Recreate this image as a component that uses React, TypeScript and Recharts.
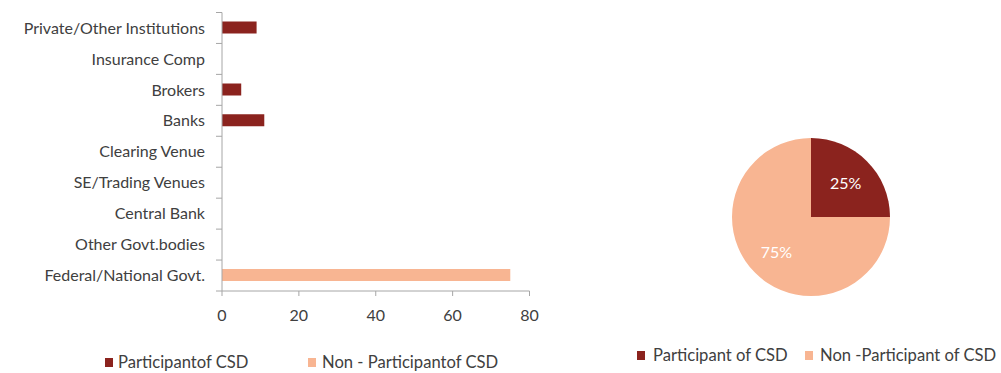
import React from "react";
import { BarChart, Bar, XAxis, YAxis, PieChart, Pie, Cell } from "recharts";

const categories = [
  "Private/Other Institutions",
  "Insurance Comp",
  "Brokers",
  "Banks",
  "Clearing Venue",
  "SE/Trading Venues",
  "Central Bank",
  "Other Govt.bodies",
  "Federal/National Govt.",
];
const participantValues = [9, 0, 5, 11, 0, 0, 0, 0, 0];
const nonParticipantValues = [0, 0, 0, 0, 0, 0, 0, 0, 75];
const xTicks = [0, 20, 40, 60, 80];
const barSeriesNames = ["Participantof CSD", "Non - Participantof CSD"];

const pieNames = ["Participant of CSD", "Non -Participant of CSD"];
const pieValues = [25, 75];

const DARK = "#8B231E";
const LIGHT = "#F8B592";
const TEXT = "#404040";
const AXIS = "#A6A6A6";
const FONT = "Lato, 'Open Sans', sans-serif";

const Y_TICK_SIZE = 6;
const Y_TICK_MARGIN = 11;

const barData = categories.map((c, i) => ({
  name: c,
  participant: participantValues[i],
  nonParticipant: nonParticipantValues[i],
}));

const pieData = pieNames.map((n, i) => ({ name: n, value: pieValues[i] }));
const pieColors = [DARK, LIGHT];

const RAD = Math.PI / 180;
const renderPieLabel = (props: any) => {
  const { cx, cy, midAngle, outerRadius, percent } = props;
  const r = outerRadius * 0.62;
  const x = cx + r * Math.cos(-midAngle * RAD);
  const y = cy + r * Math.sin(-midAngle * RAD);
  return (
    <text
      x={x}
      y={y}
      fill="#FFFFFF"
      textAnchor="middle"
      dominantBaseline="central"
      fontSize={16}
      fontFamily={FONT}
    >
      {`${Math.round(percent * 100)}%`}
    </text>
  );
};

// Category label plus Excel-style tick marks on the band boundaries
const CategoryTick = (props: any) => {
  const { x, y, payload, index } = props;
  const half = payload && typeof payload.offset === "number" ? payload.offset : 0;
  const axisX = x + Y_TICK_SIZE + Y_TICK_MARGIN;
  const isLast = index === categories.length - 1;
  return (
    <g>
      <line
        x1={axisX - Y_TICK_SIZE}
        x2={axisX}
        y1={y - half}
        y2={y - half}
        stroke={AXIS}
      />
      {isLast && (
        <line
          x1={axisX - Y_TICK_SIZE}
          x2={axisX}
          y1={y + half}
          y2={y + half}
          stroke={AXIS}
        />
      )}
      <text
        x={x}
        y={y}
        dy="0.355em"
        textAnchor="end"
        fill={TEXT}
        fontSize={16}
        fontFamily={FONT}
      >
        {payload.value}
      </text>
    </g>
  );
};

const LegendItem = ({ color, label, left, top, gap }: any) => (
  <div
    style={{
      position: "absolute",
      left,
      top,
      display: "flex",
      alignItems: "center",
      fontFamily: FONT,
      fontSize: 16.6,
      color: TEXT,
      whiteSpace: "nowrap",
      lineHeight: "18px",
    }}
  >
    <span
      style={{
        display: "inline-block",
        width: 8,
        height: 9,
        background: color,
        marginRight: gap,
      }}
    />
    <span>{label}</span>
  </div>
);

export default function App() {
  return (
    <div
      style={{
        position: "absolute",
        left: 0,
        top: 0,
        width: 1001,
        height: 373,
        background: "#FFFFFF",
        overflow: "hidden",
      }}
    >
      <div style={{ position: "absolute", left: 0, top: 0 }}>
        <BarChart
          width={560}
          height={333}
          data={barData}
          layout="vertical"
          margin={{ top: 12.5, right: 30.5, left: 0, bottom: 0 }}
          barCategoryGap={0}
        >
          <XAxis
            type="number"
            domain={[0, 80]}
            ticks={xTicks}
            interval={0}
            height={42}
            axisLine={{ stroke: AXIS, strokeWidth: 1 }}
            tickLine={{ stroke: AXIS }}
            tickSize={5}
            tickMargin={14}
            tick={{ fill: TEXT, fontSize: 16, fontFamily: FONT }}
          />
          <YAxis
            type="category"
            dataKey="name"
            width={222}
            interval={0}
            axisLine={{ stroke: AXIS, strokeWidth: 1 }}
            tickLine={false}
            tickSize={Y_TICK_SIZE}
            tickMargin={Y_TICK_MARGIN}
            tick={<CategoryTick />}
          />
          <Bar
            dataKey="participant"
            name={barSeriesNames[0]}
            stackId="s"
            fill={DARK}
            barSize={12}
            isAnimationActive={false}
          />
          <Bar
            dataKey="nonParticipant"
            name={barSeriesNames[1]}
            stackId="s"
            fill={LIGHT}
            barSize={12}
            isAnimationActive={false}
          />
        </BarChart>
      </div>

      <LegendItem color={DARK} label={barSeriesNames[0]} left={105} top={353} gap={5} />
      <LegendItem color={LIGHT} label={barSeriesNames[1]} left={308} top={353} gap={6} />

      <div style={{ position: "absolute", left: 611, top: 0 }}>
        <PieChart width={400} height={340} margin={{ top: 0, right: 0, bottom: 0, left: 0 }}>
          <Pie
            data={pieData}
            dataKey="value"
            nameKey="name"
            cx={200}
            cy={217}
            outerRadius={79}
            startAngle={90}
            endAngle={-270}
            stroke="none"
            label={renderPieLabel}
            labelLine={false}
            isAnimationActive={false}
          >
            {pieData.map((d, i) => (
              <Cell key={d.name} fill={pieColors[i]} />
            ))}
          </Pie>
        </PieChart>
      </div>

      <LegendItem color={DARK} label={pieNames[0]} left={637} top={346} gap={8} />
      <LegendItem color={LIGHT} label={pieNames[1]} left={805} top={346} gap={7} />
    </div>
  );
}
